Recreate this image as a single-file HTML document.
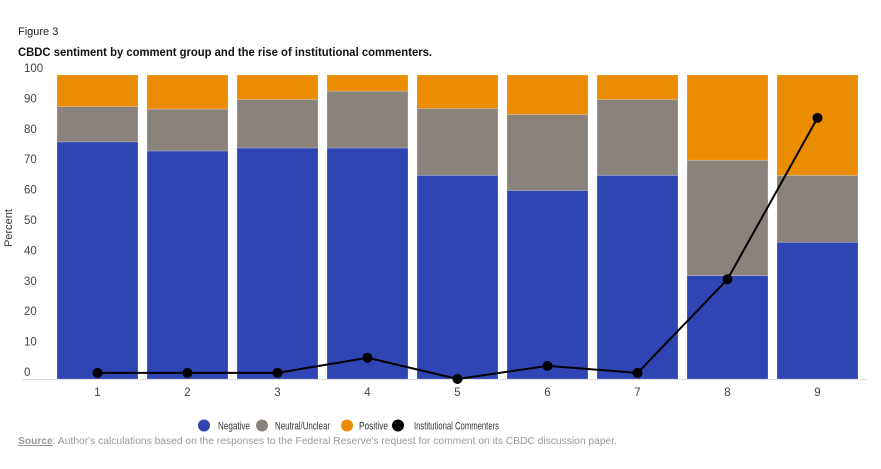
<!DOCTYPE html>
<html><head><meta charset="utf-8"><style>
body{margin:0;background:#fff;width:881px;height:469px;overflow:hidden;font-family:"Liberation Sans",sans-serif}
svg{display:block}
</style></head><body>
<svg id="chart" width="881" height="469">
<text x="18" y="35" font-size="11" fill="#222">Figure 3</text>
<text x="18" y="56" font-size="12" font-weight="bold" fill="#111" textLength="414" lengthAdjust="spacingAndGlyphs">CBDC sentiment by comment group and the rise of institutional commenters.</text>
<text transform="translate(12,228) rotate(-90)" text-anchor="middle" font-size="11" fill="#333">Percent</text>
<g id="yticks"></g><g id="bars"></g><g id="xticks"></g>
<line x1="22" y1="379.5" x2="867" y2="379.5" stroke="#ddd" stroke-width="1"/>
<g id="line"></g>
<g font-size="11" fill="#333">
<g><circle cx="204" cy="425.5" r="6" fill="#2f45b3"/><text x="218" y="429.5" font-size="11" textLength="32" lengthAdjust="spacingAndGlyphs">Negative</text></g>
<g><circle cx="262" cy="425.5" r="6" fill="#8a837c"/><text x="275" y="429.5" font-size="11" textLength="55" lengthAdjust="spacingAndGlyphs">Neutral/Unclear</text></g>
<g><circle cx="347" cy="425.5" r="6" fill="#ec8c00"/><text x="359" y="429.5" font-size="11" textLength="29" lengthAdjust="spacingAndGlyphs">Positive</text></g>
<g><circle cx="398" cy="425.5" r="6" fill="#000"/><text x="414" y="429.5" font-size="11" textLength="85" lengthAdjust="spacingAndGlyphs">Institutional Commenters</text></g>
</g>
<text x="18" y="444" font-size="10.5" fill="#999" textLength="599" lengthAdjust="spacingAndGlyphs"><tspan font-weight="bold" text-decoration="underline">Source</tspan>: Author's calculations based on the responses to the Federal Reserve's request for comment on its CBDC discussion paper.</text>
</svg>
<script>
const categories=["1","2","3","4","5","6","7","8","9"];
const negative=[78,75,76,76,67,62,67,34,45];
const neutral=[11.6,13.8,16,18.7,22,25,25,38,22];
const positive=[10.4,11.2,8,5.3,11,13,8,28,33];
const institutional=[2,2,2,7,0,4.3,2,32.8,85.9];
const yTicks=[0,10,20,30,40,50,60,70,80,90,100];
const NS="http://www.w3.org/2000/svg";
const y=v=>379-v*3.04;
const xc=i=>97.5+i*90;
const bw=81;
function mk(tag,attrs,parent){const e=document.createElementNS(NS,tag);for(const k in attrs)e.setAttribute(k,attrs[k]);parent.appendChild(e);return e;}
const yt=document.getElementById('yticks');
yTicks.forEach(t=>{const e=mk('text',{x:24,y:y(t)-3,'font-size':11.5,fill:'#444'},yt);e.textContent=t;

});
const bars=document.getElementById('bars'),xt=document.getElementById('xticks');
categories.forEach((c,i)=>{
 const x=xc(i)-bw/2;let base=0;
 [[negative,'#2f45b3','negative'],[neutral,'#8a837c','neutral'],[positive,'#ec8c00','positive']].forEach(([arr,col,nm])=>{
  const v=arr[i];const r=mk('rect',{x:x,y:y(base+v),width:bw,height:y(base)-y(base+v),fill:col,stroke:'rgba(255,255,255,0.35)','stroke-width':0.6},bars);
  
  
  base+=v;});
 const t=mk('text',{x:xc(i),y:396,'text-anchor':'middle','font-size':11.5,fill:'#444'},xt);t.textContent=c;
 
 
});
const lg=document.getElementById('line');
const p=mk('polyline',{points:institutional.map((v,i)=>xc(i)+','+y(v)).join(' '),fill:'none',stroke:'#000','stroke-width':2},lg);


institutional.forEach((v,i)=>{const c=mk('circle',{cx:xc(i),cy:y(v),r:5,fill:'#000'},lg);

});
</script>
</body></html>
